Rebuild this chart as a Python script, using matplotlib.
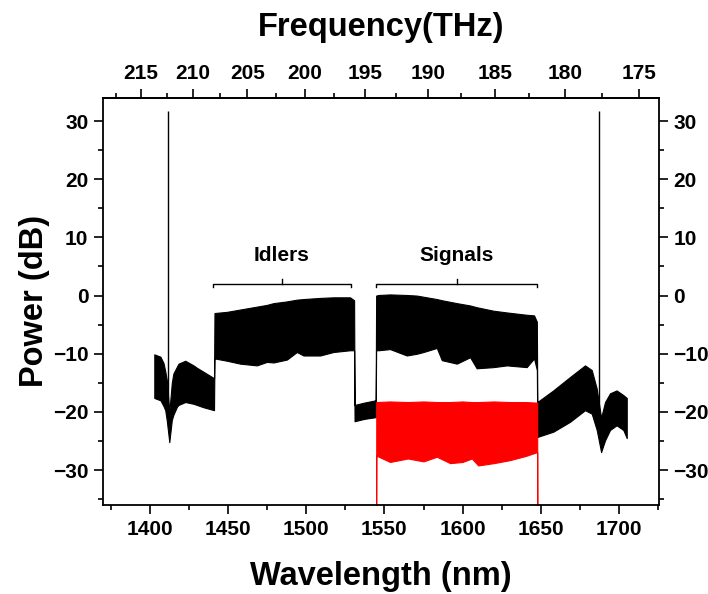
import numpy as np
import matplotlib
matplotlib.use('Agg')
from matplotlib import pyplot as plt
from matplotlib.ticker import MultipleLocator, FixedLocator

plt.rcParams['font.family'] = ['Liberation Sans', 'DejaVu Sans']
plt.rcParams['font.weight'] = 'bold'

# envelope of the measured spectrum (wavelength nm, upper / lower edge in dB)
ase_left_wl = [1402.8, 1406.7, 1408.7, 1409.8, 1410.8, 1412.4, 1414.0, 1415.0, 1417.3,
               1418.3, 1422.6, 1427.9, 1430.0, 1434.3, 1441.0]
ase_left_top = [-10.1, -10.5, -11.6, -13.0, -14.5, -20.0, -15.0, -13.4, -12.2,
                -11.7, -11.2, -12.0, -12.4, -13.1, -14.2]
ase_left_bot = [-17.6, -18.0, -19.0, -19.7, -21.5, -25.2, -21.4, -20.5, -19.1,
                -18.8, -18.3, -18.6, -18.8, -19.2, -19.7]

idler_wl = [1441.3, 1449.2, 1457.7, 1468.4, 1474.8, 1479.0, 1487.6, 1494.0, 1498.2,
            1508.9, 1517.4, 1528.0, 1530.6]
idler_top = [-3.0, -2.8, -2.4, -1.9, -1.6, -1.3, -1.0, -0.7, -0.6, -0.4, -0.3, -0.3, -0.8]
idler_bot = [-10.8, -11.2, -11.7, -12.0, -11.4, -11.5, -11.0, -9.7, -10.3,
             -10.3, -9.7, -9.4, -9.4]

gap_wl = [1530.9, 1537.0, 1544.4]
gap_top = [-18.8, -18.4, -18.0]
gap_bot = [-21.6, -21.2, -20.9]

signal_wl = [1544.7, 1546.2, 1553.6, 1564.3, 1570.7, 1575.0, 1583.5, 1586.7, 1596.3,
             1604.8, 1609.0, 1619.7, 1628.3, 1641.0, 1645.7, 1647.5]
signal_top = [0.0, 0.1, 0.2, 0.1, 0.0, -0.2, -0.6, -0.8, -1.3,
              -1.7, -2.0, -2.6, -2.9, -3.3, -3.4, -4.5]
signal_bot = [-9.4, -9.4, -9.2, -10.3, -10.0, -9.7, -9.0, -11.1, -11.7,
              -10.6, -12.5, -12.3, -12.0, -12.3, -10.8, -12.8]

ase_right_wl = [1647.8, 1658.0, 1668.7, 1678.3, 1682.6, 1685.8, 1688.6, 1691.1,
                1694.3, 1698.5, 1702.8, 1705.0]
ase_right_top = [-18.3, -16.3, -14.0, -12.0, -12.8, -16.0, -21.0, -18.3,
                 -16.8, -16.3, -17.1, -17.6]
ase_right_bot = [-24.3, -23.4, -21.7, -19.7, -20.3, -23.1, -26.9, -24.9,
                 -23.1, -22.3, -23.1, -24.5]

# filtered signal band (red trace)
red_wl = [1544.7, 1544.8, 1553.6, 1565.0, 1575.0, 1583.5, 1592.0, 1600.0, 1605.9,
          1610.0, 1620.0, 1630.0, 1640.0, 1647.7, 1647.8]
red_top = [-40.0, -18.3, -18.2, -18.3, -18.2, -18.3, -18.3, -18.2, -18.3,
           -18.3, -18.2, -18.3, -18.3, -18.4, -40.0]
red_bot = [-40.0, -27.5, -28.6, -28.0, -28.5, -27.7, -28.8, -28.6, -28.0,
           -29.2, -28.8, -28.3, -27.6, -26.9, -40.0]

# pump lines
pump_wl = [1411.8, 1687.5]
pump_peak = [31.8, 31.8]
pump_base = [-20.0, -21.0]

freq_ticks = [215, 210, 205, 200, 195, 190, 185, 180, 175]
freq_minor = [217.5, 212.5, 207.5, 202.5, 197.5, 192.5, 187.5, 182.5, 177.5]

C_NM_THZ = 299792.458

wl = np.concatenate([ase_left_wl, idler_wl, gap_wl, signal_wl, ase_right_wl])
top = np.concatenate([ase_left_top, idler_top, gap_top, signal_top, ase_right_top])
bot = np.concatenate([ase_left_bot, idler_bot, gap_bot, signal_bot, ase_right_bot])

fig = plt.figure(figsize=(7.08, 5.94), dpi=100)
ax = fig.add_axes([0.1455, 0.1498, 0.785, 0.6856])

ax.fill_between(wl, bot, top, color='black', edgecolor='black', linewidth=0.8)
ax.fill_between(red_wl, red_bot, red_top, color='red', edgecolor='red', linewidth=0.8)
ax.vlines(pump_wl, pump_base, pump_peak, color='black', linewidth=1.0)

# brackets with labels
for (x0, x1, label) in [(1440.3, 1528.5, 'Idlers'), (1544.7, 1647.8, 'Signals')]:
    xm = (x0 + x1) / 2
    ax.plot([x0, x0, x1, x1], [1.4, 2.0, 2.0, 1.4], color='black', linewidth=1.0)
    ax.plot([xm, xm], [2.0, 2.8], color='black', linewidth=1.0)
    ax.text(xm, 6.9, label, ha='center', va='center', fontsize=15, fontweight='bold')

ax.set_xlim(1370, 1725.5)
ax.set_ylim(-36, 34)
ax.xaxis.set_major_locator(MultipleLocator(50))
ax.xaxis.set_minor_locator(MultipleLocator(25))
ax.yaxis.set_major_locator(MultipleLocator(10))
ax.yaxis.set_minor_locator(MultipleLocator(5))

ax.tick_params(which='both', direction='out', width=1.2, labelsize=15)
ax.tick_params(which='major', length=6.5)
ax.tick_params(which='minor', length=3.6)
ax.tick_params(axis='y', which='both', right=True, labelright=True)
ax.tick_params(axis='y', which='major', pad=4)
ax.tick_params(axis='x', which='major', pad=4)
for s in ax.spines.values():
    s.set_linewidth(1.3)

sec = ax.secondary_xaxis('top', functions=(lambda w: C_NM_THZ / w, lambda f: C_NM_THZ / f))
sec.xaxis.set_major_locator(FixedLocator(freq_ticks))
sec.xaxis.set_minor_locator(FixedLocator(freq_minor))
sec.tick_params(which='both', direction='out', width=1.2, labelsize=15)
sec.tick_params(which='major', length=6.5, pad=4)
sec.tick_params(which='minor', length=3.6)
sec.spines['top'].set_linewidth(1.3)
sec.set_xlabel('Frequency(THz)', fontsize=23.5, fontweight='bold', labelpad=20)

ax.set_xlabel('Wavelength (nm)', fontsize=23.5, fontweight='bold', labelpad=16)
ax.set_ylabel('Power (dB)', fontsize=23.5, fontweight='bold', labelpad=2)

fig.savefig('out.png', dpi=100)
